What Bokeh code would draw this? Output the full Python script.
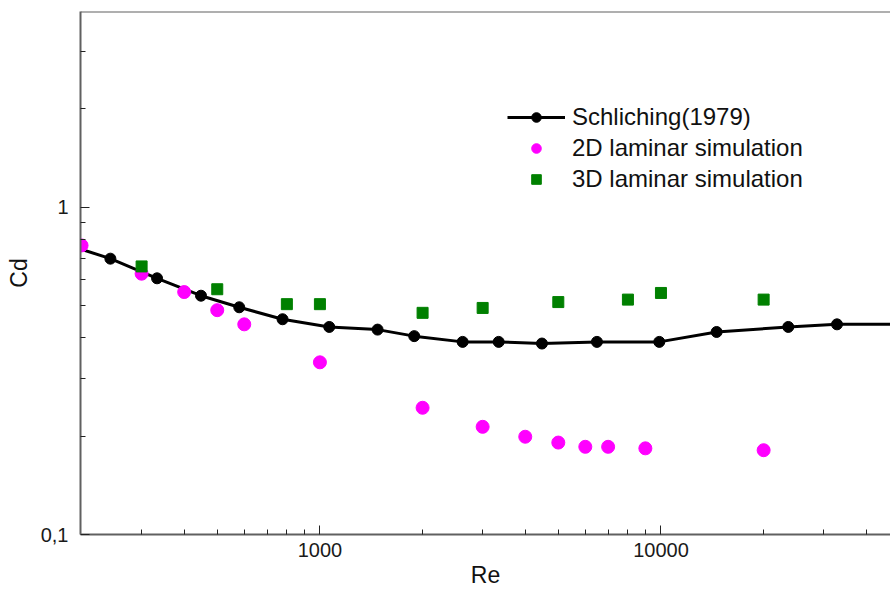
from bokeh.plotting import figure
from bokeh.models import (FixedTicker, Legend, LegendItem, Span, Range1d)
from bokeh.embed import file_html
from bokeh.resources import INLINE

# Schlichting (1979) reference curve
re_ref = [150, 243, 333, 448, 580, 777, 1065, 1476, 1890, 2621, 3343, 4477,
          6490, 9886, 14560, 23620, 32820, 60000]
cd_ref = [0.82, 0.697, 0.607, 0.537, 0.495, 0.455, 0.431, 0.423, 0.404, 0.388,
          0.388, 0.3835, 0.388, 0.388, 0.416, 0.431, 0.439, 0.44]

# 2D laminar simulation
re_2d = [200, 300, 400, 500, 600, 1000, 2000, 3000, 4000, 5000, 6000, 7000, 9000, 20000]
cd_2d = [0.765, 0.627, 0.551, 0.485, 0.439, 0.336, 0.244, 0.2134, 0.199, 0.191,
         0.1854, 0.1854, 0.1834, 0.181]

# 3D laminar simulation
re_3d = [300, 500, 800, 1000, 2000, 3000, 5000, 8000, 10000, 20000]
cd_3d = [0.66, 0.562, 0.506, 0.506, 0.476, 0.4927, 0.5135, 0.5225, 0.5475, 0.5225]

x_major = [1000, 10000]
x_major_labels = ["1000", "10000"]
x_minor = [300, 400, 500, 600, 700, 800, 900, 2000, 3000, 4000, 5000, 6000,
           7000, 8000, 9000, 20000, 30000, 40000]
y_major = [0.1, 1]
y_major_labels = ["0,1", "1"]
y_minor = [0.2, 0.3, 0.4, 0.5, 0.6, 0.7, 0.8, 0.9, 2, 3]

FONT = "Liberation Sans"
AX = "#606060"

p = figure(width=890, height=591, x_axis_type="log", y_axis_type="log",
           x_range=Range1d(198.6, 47100), y_range=Range1d(0.1, 3.97),
           output_backend="svg", toolbar_location=None,
           min_border_left=80, min_border_right=0, min_border_top=11,
           min_border_bottom=57)
p.outline_line_color = None
p.xgrid.visible = False
p.ygrid.visible = False
p.background_fill_color = "white"
p.border_fill_color = "white"

line_r = p.line(re_ref, cd_ref, line_color="black", line_width=3)
dots_r = p.scatter(re_ref, cd_ref, marker="circle", size=11, fill_color="black",
                   line_color="black")
pink_r = p.scatter(re_2d, cd_2d, marker="circle", size=13, fill_color="#FF00FF",
                   line_color="#FF00FF")
green_r = p.scatter(re_3d, cd_3d, marker="square", size=11, fill_color="#008000",
                    line_color="#008000")

top_line = Span(location=3.97, dimension="width", line_color=AX, line_width=2)
p.add_layout(top_line)

for ax, major, labels, minor in ((p.xaxis[0], x_major, x_major_labels, x_minor),
                                 (p.yaxis[0], y_major, y_major_labels, y_minor)):
    ax.ticker = FixedTicker(ticks=major, minor_ticks=minor)
    ax.major_label_overrides = {m: l for m, l in zip(major, labels)}
    ax.axis_line_color = AX
    ax.axis_line_width = 2
    ax.major_tick_line_color = "#222222"
    ax.minor_tick_line_color = "#222222"
    ax.major_tick_line_width = 1
    ax.minor_tick_line_width = 1
    ax.major_tick_in = 9
    ax.major_tick_out = 0
    ax.minor_tick_in = 5
    ax.minor_tick_out = 0
    ax.major_label_text_font = FONT
    ax.major_label_text_font_size = "20px"
    ax.major_label_text_color = "#1a1a1a"
    ax.axis_label_text_font = FONT
    ax.axis_label_text_font_size = "23px"
    ax.axis_label_text_font_style = "normal"
    ax.axis_label_text_color = "#111111"

p.xaxis.axis_label = "Re"
p.yaxis.axis_label = "Cd"
p.xaxis.major_label_standoff = 8
p.xaxis.axis_label_standoff = 2
p.yaxis.major_label_standoff = 12
p.yaxis.axis_label_standoff = 6

legend = Legend(items=[
    LegendItem(label="Schliching(1979)", renderers=[line_r, dots_r]),
    LegendItem(label="2D laminar simulation", renderers=[pink_r]),
    LegendItem(label="3D laminar simulation", renderers=[green_r]),
], location=(427, 341))
legend.border_line_color = None
legend.background_fill_alpha = 0
legend.glyph_width = 58
legend.glyph_height = 24
legend.label_height = 24
legend.spacing = 3
legend.padding = 0
legend.margin = 0
legend.label_standoff = 7
legend.label_text_font = FONT
legend.label_text_font_size = "24px"
legend.label_text_color = "#111111"
p.add_layout(legend)

open("out.html", "w").write(file_html(p, INLINE))
